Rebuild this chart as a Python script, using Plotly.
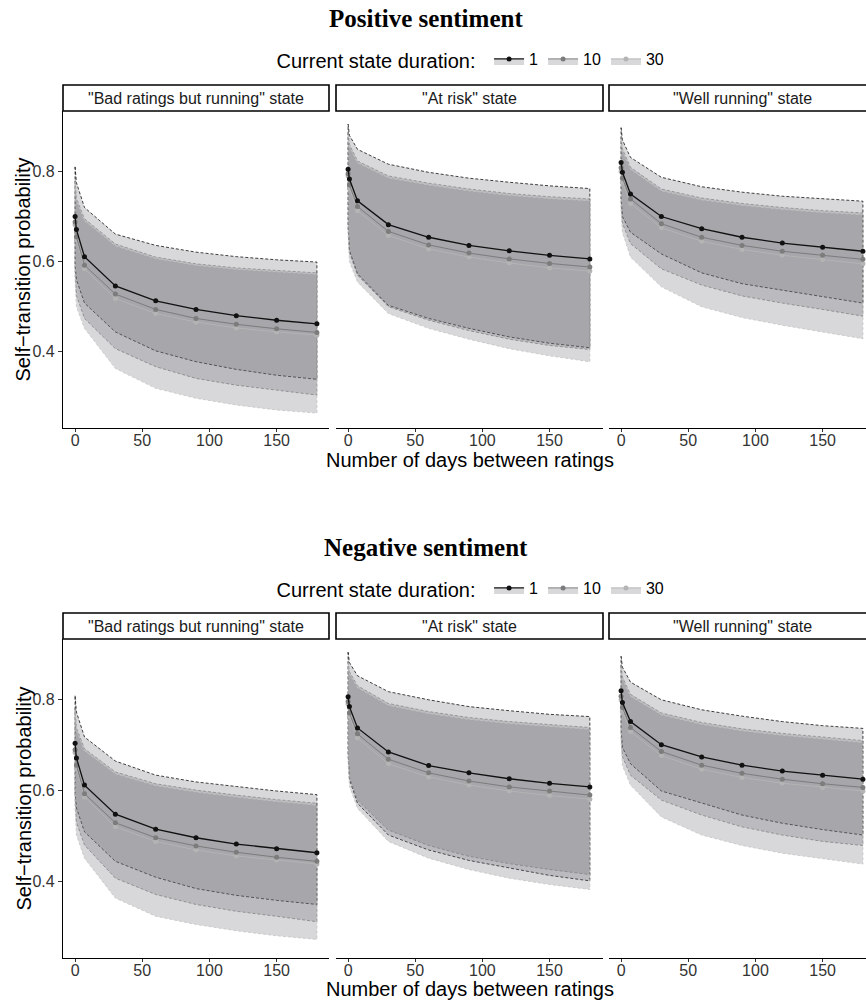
import plotly.graph_objects as go

# ---------------- data ----------------
days = [0, 1, 7, 30, 60, 90, 120, 150, 180]
durations = ["1", "10", "30"]
states = ['"Bad ratings but running" state', '"At risk" state', '"Well running" state']
x_ticks = [0, 50, 100, 150]
y_ticks = [0.4, 0.6, 0.8]
y_tick_labels = ["0.4", "0.6", "0.8"]

# Positive sentiment - "Bad ratings but running"
pos_bad_mean_1 = [0.700, 0.671, 0.611, 0.546, 0.513, 0.494, 0.480, 0.470, 0.462]
pos_bad_mean_10 = [0.688, 0.655, 0.592, 0.528, 0.494, 0.474, 0.461, 0.451, 0.443]
pos_bad_mean_30 = [0.682, 0.648, 0.584, 0.518, 0.485, 0.466, 0.453, 0.444, 0.437]
pos_bad_hi_1 = [0.810, 0.775, 0.720, 0.661, 0.636, 0.621, 0.611, 0.604, 0.599]
pos_bad_lo_1 = [0.590, 0.560, 0.508, 0.444, 0.402, 0.378, 0.361, 0.348, 0.339]
pos_bad_hi_10 = [0.780, 0.740, 0.695, 0.639, 0.610, 0.595, 0.586, 0.580, 0.575]
pos_bad_lo_10 = [0.575, 0.525, 0.474, 0.407, 0.367, 0.341, 0.326, 0.315, 0.304]
pos_bad_hi_30 = [0.776, 0.736, 0.691, 0.635, 0.607, 0.592, 0.583, 0.577, 0.572]
pos_bad_lo_30 = [0.560, 0.500, 0.452, 0.363, 0.319, 0.297, 0.282, 0.271, 0.264]

# Positive sentiment - "At risk"
pos_risk_mean_1 = [0.805, 0.783, 0.735, 0.682, 0.654, 0.636, 0.624, 0.614, 0.606]
pos_risk_mean_10 = [0.795, 0.770, 0.722, 0.667, 0.637, 0.619, 0.606, 0.596, 0.588]
pos_risk_mean_30 = [0.790, 0.763, 0.713, 0.658, 0.628, 0.610, 0.597, 0.586, 0.579]
pos_risk_hi_1 = [0.905, 0.880, 0.849, 0.816, 0.798, 0.785, 0.776, 0.768, 0.762]
pos_risk_lo_1 = [0.680, 0.625, 0.573, 0.503, 0.474, 0.452, 0.433, 0.419, 0.409]
pos_risk_hi_10 = [0.885, 0.860, 0.823, 0.790, 0.774, 0.761, 0.751, 0.744, 0.739]
pos_risk_lo_10 = [0.676, 0.620, 0.570, 0.500, 0.470, 0.447, 0.428, 0.414, 0.405]
pos_risk_hi_30 = [0.881, 0.856, 0.819, 0.786, 0.770, 0.757, 0.747, 0.740, 0.735]
pos_risk_lo_30 = [0.660, 0.600, 0.555, 0.485, 0.452, 0.428, 0.407, 0.391, 0.378]

# Positive sentiment - "Well running"
pos_well_mean_1 = [0.820, 0.798, 0.750, 0.700, 0.673, 0.654, 0.641, 0.632, 0.623]
pos_well_mean_10 = [0.808, 0.785, 0.739, 0.684, 0.654, 0.636, 0.623, 0.614, 0.605]
pos_well_mean_30 = [0.800, 0.776, 0.729, 0.675, 0.645, 0.627, 0.614, 0.604, 0.595]
pos_well_hi_1 = [0.897, 0.870, 0.831, 0.787, 0.766, 0.754, 0.745, 0.739, 0.734]
pos_well_lo_1 = [0.740, 0.700, 0.665, 0.617, 0.575, 0.551, 0.536, 0.522, 0.508]
pos_well_hi_10 = [0.875, 0.850, 0.809, 0.761, 0.741, 0.729, 0.720, 0.713, 0.708]
pos_well_lo_10 = [0.725, 0.685, 0.640, 0.584, 0.548, 0.524, 0.508, 0.494, 0.479]
pos_well_hi_30 = [0.871, 0.846, 0.805, 0.757, 0.737, 0.725, 0.716, 0.709, 0.704]
pos_well_lo_30 = [0.710, 0.665, 0.610, 0.544, 0.500, 0.476, 0.459, 0.444, 0.429]

# Negative sentiment - "Bad ratings but running"
neg_bad_mean_1 = [0.704, 0.672, 0.612, 0.548, 0.515, 0.496, 0.482, 0.472, 0.463]
neg_bad_mean_10 = [0.690, 0.656, 0.593, 0.529, 0.496, 0.478, 0.464, 0.453, 0.444]
neg_bad_mean_30 = [0.684, 0.649, 0.586, 0.520, 0.488, 0.469, 0.456, 0.447, 0.438]
neg_bad_hi_1 = [0.809, 0.773, 0.718, 0.665, 0.634, 0.619, 0.609, 0.599, 0.591]
neg_bad_lo_1 = [0.592, 0.562, 0.509, 0.444, 0.409, 0.384, 0.369, 0.358, 0.349]
neg_bad_hi_10 = [0.780, 0.738, 0.692, 0.641, 0.615, 0.601, 0.590, 0.580, 0.572]
neg_bad_lo_10 = [0.578, 0.530, 0.480, 0.407, 0.371, 0.349, 0.334, 0.323, 0.311]
neg_bad_hi_30 = [0.776, 0.734, 0.688, 0.637, 0.611, 0.597, 0.586, 0.576, 0.568]
neg_bad_lo_30 = [0.562, 0.502, 0.451, 0.363, 0.323, 0.305, 0.291, 0.280, 0.272]

# Negative sentiment - "At risk"
neg_risk_mean_1 = [0.807, 0.785, 0.738, 0.685, 0.655, 0.639, 0.626, 0.616, 0.608]
neg_risk_mean_10 = [0.796, 0.771, 0.725, 0.669, 0.639, 0.621, 0.608, 0.599, 0.590]
neg_risk_mean_30 = [0.791, 0.764, 0.716, 0.659, 0.630, 0.612, 0.599, 0.589, 0.581]
neg_risk_hi_1 = [0.905, 0.882, 0.853, 0.818, 0.800, 0.785, 0.776, 0.768, 0.763]
neg_risk_lo_1 = [0.680, 0.625, 0.572, 0.502, 0.469, 0.446, 0.429, 0.413, 0.401]
neg_risk_hi_10 = [0.885, 0.862, 0.831, 0.792, 0.774, 0.761, 0.752, 0.745, 0.739]
neg_risk_lo_10 = [0.685, 0.630, 0.579, 0.513, 0.479, 0.455, 0.439, 0.426, 0.415]
neg_risk_hi_30 = [0.881, 0.858, 0.827, 0.788, 0.770, 0.757, 0.748, 0.741, 0.735]
neg_risk_lo_30 = [0.665, 0.610, 0.561, 0.488, 0.451, 0.426, 0.407, 0.393, 0.382]

# Negative sentiment - "Well running"
neg_well_mean_1 = [0.820, 0.794, 0.752, 0.701, 0.674, 0.656, 0.643, 0.634, 0.625]
neg_well_mean_10 = [0.808, 0.783, 0.739, 0.686, 0.656, 0.638, 0.625, 0.615, 0.607]
neg_well_mean_30 = [0.800, 0.775, 0.730, 0.677, 0.647, 0.629, 0.616, 0.607, 0.599]
neg_well_hi_1 = [0.896, 0.872, 0.839, 0.800, 0.778, 0.764, 0.752, 0.743, 0.737]
neg_well_lo_1 = [0.735, 0.695, 0.659, 0.599, 0.572, 0.546, 0.528, 0.514, 0.502]
neg_well_hi_10 = [0.875, 0.850, 0.812, 0.771, 0.750, 0.736, 0.726, 0.718, 0.710]
neg_well_lo_10 = [0.720, 0.675, 0.634, 0.579, 0.546, 0.520, 0.502, 0.488, 0.479]
neg_well_hi_30 = [0.871, 0.846, 0.808, 0.767, 0.746, 0.732, 0.722, 0.714, 0.706]
neg_well_lo_30 = [0.705, 0.655, 0.612, 0.542, 0.502, 0.479, 0.462, 0.450, 0.438]

panels = [
    (0, 0, [pos_bad_mean_1, pos_bad_mean_10, pos_bad_mean_30],
     [pos_bad_lo_1, pos_bad_lo_10, pos_bad_lo_30], [pos_bad_hi_1, pos_bad_hi_10, pos_bad_hi_30]),
    (0, 1, [pos_risk_mean_1, pos_risk_mean_10, pos_risk_mean_30],
     [pos_risk_lo_1, pos_risk_lo_10, pos_risk_lo_30], [pos_risk_hi_1, pos_risk_hi_10, pos_risk_hi_30]),
    (0, 2, [pos_well_mean_1, pos_well_mean_10, pos_well_mean_30],
     [pos_well_lo_1, pos_well_lo_10, pos_well_lo_30], [pos_well_hi_1, pos_well_hi_10, pos_well_hi_30]),
    (1, 0, [neg_bad_mean_1, neg_bad_mean_10, neg_bad_mean_30],
     [neg_bad_lo_1, neg_bad_lo_10, neg_bad_lo_30], [neg_bad_hi_1, neg_bad_hi_10, neg_bad_hi_30]),
    (1, 1, [neg_risk_mean_1, neg_risk_mean_10, neg_risk_mean_30],
     [neg_risk_lo_1, neg_risk_lo_10, neg_risk_lo_30], [neg_risk_hi_1, neg_risk_hi_10, neg_risk_hi_30]),
    (1, 2, [neg_well_mean_1, neg_well_mean_10, neg_well_mean_30],
     [neg_well_lo_1, neg_well_lo_10, neg_well_lo_30], [neg_well_hi_1, neg_well_hi_10, neg_well_hi_30]),
]

# ---------------- styling ----------------
W, H = 866, 1001
SANS = "Liberation Sans, Arial, Helvetica, sans-serif"
SERIF = "Liberation Serif, Times New Roman, serif"
ribbon_fill = "rgba(112,112,118,0.27)"
ribbon_edge = ["#111111", "#8a8a8a", "#c4c4c4"]
line_col = ["#111111", "#7c7c7c", "#b4b4b4"]
line_w = [1.3, 1.0, 1.0]

def px_x(p):
    return p / W

def px_y(p):
    return 1 - p / H

col_px = [(63, 329), (336, 603), (609, 866)]
row_px = [(111, 428), (639, 958)]
strip_px = [(85, 111), (613, 639)]
x_ranges = [[-9, 189], [-9, 189.8], [-9, 182.3]]
y_range = [0.231, 0.934]

fig = go.Figure()
layout = dict(
    width=W, height=H,
    margin=dict(l=0, r=0, t=0, b=0),
    paper_bgcolor="white", plot_bgcolor="rgba(0,0,0,0)",
    showlegend=True,
    font=dict(family=SANS, color="#000000"),
)
shapes = []
annotations = []

for idx, (r, c, means, los, his) in enumerate(panels):
    k = idx + 1
    xa = "x" if k == 1 else f"x{k}"
    ya = "y" if k == 1 else f"y{k}"
    for d in range(3):
        xs = days + days[::-1] + [days[0]]
        ys = his[d] + los[d][::-1] + [his[d][0]]
        fig.add_trace(go.Scatter(
            x=xs, y=ys, xaxis=xa, yaxis=ya, mode="lines", fill="toself",
            fillcolor=ribbon_fill,
            line=dict(color=ribbon_edge[d], width=0.8, dash="3px,2px"),
            showlegend=False, hoverinfo="skip"))
    for d in [2, 1, 0]:
        fig.add_trace(go.Scatter(
            x=days, y=means[d], xaxis=xa, yaxis=ya, mode="lines+markers",
            line=dict(color=line_col[d], width=line_w[d]),
            marker=dict(color=line_col[d], size=5),
            showlegend=False, hoverinfo="skip"))

    x0p, x1p = col_px[c]
    y0p, y1p = row_px[r]
    layout["xaxis" if k == 1 else f"xaxis{k}"] = dict(
        domain=[px_x(x0p), min(1.0, px_x(x1p))], range=x_ranges[c], anchor=ya,
        showgrid=False, zeroline=False, showline=True, linecolor="black", linewidth=1.3,
        ticks="outside", ticklen=3, tickwidth=1, tickcolor="#333333",
        ticklabelstandoff=-5,
        tickvals=x_ticks, ticktext=[str(v) for v in x_ticks],
        tickfont=dict(family=SANS, size=16, color="#333333"))
    yax = dict(
        domain=[px_y(y1p), px_y(y0p)], range=y_range, anchor=xa,
        showgrid=False, zeroline=False)
    if c == 0:
        yax.update(showline=True, linecolor="black", linewidth=1.3,
                   ticks="outside", ticklen=4, tickwidth=1, tickcolor="#333333",
                   tickvals=y_ticks, ticktext=y_tick_labels,
                   tickfont=dict(family=SANS, size=16, color="#333333"))
    else:
        yax.update(showline=False, showticklabels=False, ticks="")
    layout["yaxis" if k == 1 else f"yaxis{k}"] = yax

    s0, s1 = strip_px[r]
    shapes.append(dict(type="rect", xref="paper", yref="paper",
                       x0=px_x(x0p), x1=px_x(x1p + (12 if c == 2 else 0)),
                       y0=px_y(s1), y1=px_y(s0),
                       line=dict(color="black", width=1.6), fillcolor="white", layer="above"))
    annotations.append(dict(text=states[c], xref="paper", yref="paper",
                            x=px_x(x0p + 133), y=px_y((s0 + s1) / 2),
                            xanchor="center", yanchor="middle", showarrow=False,
                            font=dict(family=SANS, size=16, color="#1a1a1a")))

for leg in ["legend", "legend2"]:
    for d in range(3):
        fig.add_trace(go.Scatter(
            x=[None], y=[None], mode="lines+markers", fill="toself",
            fillcolor=ribbon_fill, name=durations[d],
            line=dict(color=line_col[d], width=line_w[d]),
            marker=dict(color=line_col[d], size=5),
            legend=leg, showlegend=True, hoverinfo="skip"))

legend_style = dict(
    orientation="h", xanchor="center", yanchor="middle", x=px_x(472),
    bgcolor="rgba(0,0,0,0)", itemwidth=30,
    font=dict(family=SANS, size=16, color="#000000"),
    title=dict(text="Current state duration: ", side="left",
               font=dict(family=SANS, size=20, color="#000000")),
    traceorder="normal")
layout["legend"] = dict(legend_style, y=px_y(60))
layout["legend2"] = dict(legend_style, y=px_y(589))

for title, yc in [("Positive sentiment", 18.5), ("Negative sentiment", 547.5)]:
    annotations.append(dict(text=f"<b>{title}</b>", xref="paper", yref="paper",
                            x=px_x(426), y=px_y(yc), xanchor="center", yanchor="middle",
                            showarrow=False, font=dict(family=SERIF, size=25, color="#000000")))
for yc in [460, 989]:
    annotations.append(dict(text="Number of days between ratings", xref="paper", yref="paper",
                            x=px_x(470), y=px_y(yc), xanchor="center", yanchor="middle",
                            showarrow=False, font=dict(family=SANS, size=20, color="#000000")))
for (y0p, y1p) in row_px:
    annotations.append(dict(text="Self\u2212transition probability", xref="paper", yref="paper",
                            x=px_x(23), y=px_y((y0p + y1p) / 2), xanchor="center", yanchor="middle",
                            textangle=-90, showarrow=False,
                            font=dict(family=SANS, size=20, color="#000000")))

layout["shapes"] = shapes
layout["annotations"] = annotations
fig.update_layout(**layout)
# remove the default 8px page margin so the figure fills the window exactly
fig.write_html("out.html", config={"displayModeBar": False},
               post_script="document.body.style.margin='0px';")
